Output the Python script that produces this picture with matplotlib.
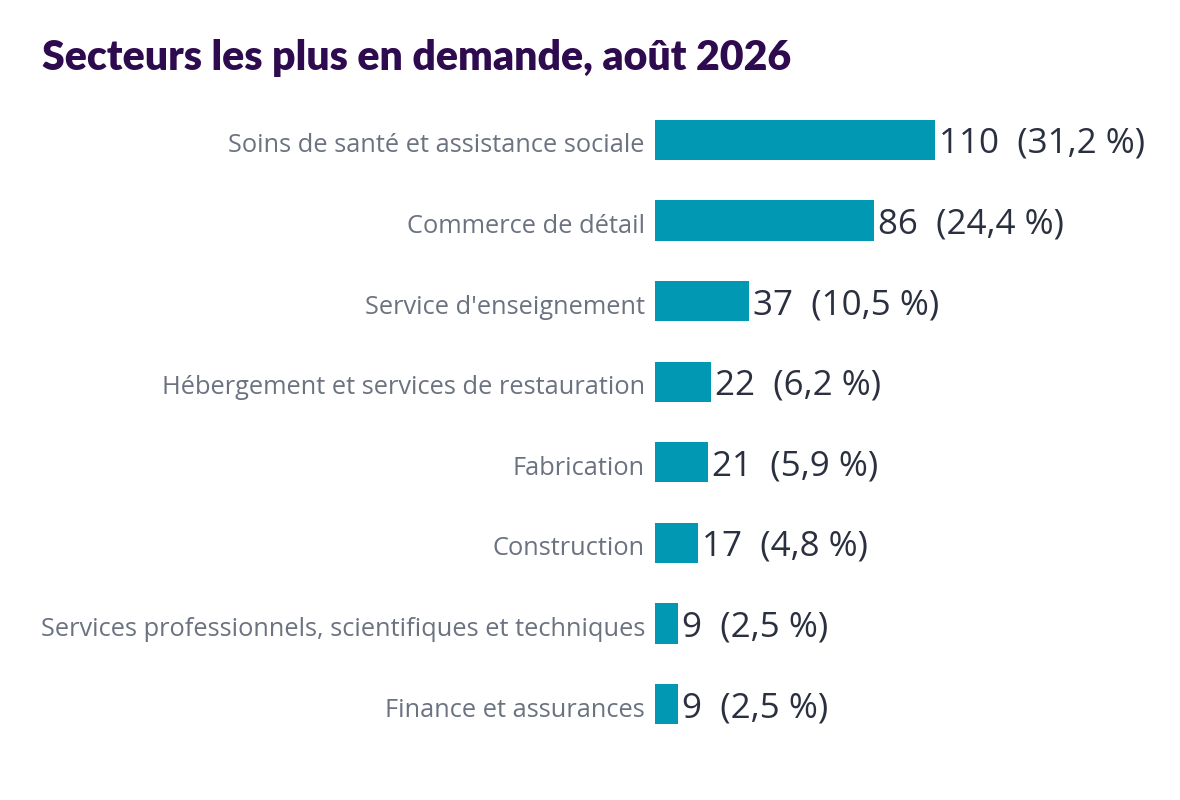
import matplotlib
matplotlib.use("Agg")
import matplotlib.pyplot as plt
import matplotlib.transforms as mtransforms

# Données
sectors = [
    "Soins de santé et assistance sociale",
    "Commerce de détail",
    "Service d'enseignement",
    "Hébergement et services de restauration",
    "Fabrication",
    "Construction",
    "Services professionnels, scientifiques et techniques",
    "Finance et assurances",
]
counts = [110, 86, 37, 22, 21, 17, 9, 9]
shares = ["31,2", "24,4", "10,5", "6,2", "5,9", "4,8", "2,5", "2,5"]

BAR_COLOR = "#0098b2"
TITLE_COLOR = "#2e0a4f"
LABEL_COLOR = "#6b7280"
VALUE_COLOR = "#2b3040"

W, H = 1180, 800
fig = plt.figure(figsize=(W / 100, H / 100), dpi=100)
fig.patch.set_facecolor("white")

# axe: x=0 à 655 px, 2.545 px par unité
left_px, top_px, bottom_px = 655, 99.7, 744.3
xmax = 180
ax = fig.add_axes([left_px / W, 1 - bottom_px / H, xmax * 2.545 / W, (bottom_px - top_px) / H])

y = list(range(len(sectors)))
ax.barh(y, counts, height=0.5, color=BAR_COLOR, edgecolor="none")
ax.set_xlim(0, xmax)
ax.set_ylim(len(sectors) - 0.5, -0.5)

# petits décalages (en pixels)
down_val = mtransforms.ScaledTranslation(0, -4 / 100, fig.dpi_scale_trans)
lbl_shift = mtransforms.ScaledTranslation(-10 / 100, -6 / 100, fig.dpi_scale_trans)

for yi, c, s in zip(y, counts, shares):
    ax.text(c + 1.5, yi, f"{c}  ({s} %)", va="center", ha="left",
            fontsize=25.2, color=VALUE_COLOR, family="Open Sans", clip_on=False,
            transform=ax.transData + down_val)

# libellés des secteurs
for yi, name in zip(y, sectors):
    ax.text(0, yi, name, va="center", ha="right", fontsize=18.3,
            color=LABEL_COLOR, family="Open Sans", clip_on=False,
            transform=ax.get_yaxis_transform() + lbl_shift)

ax.set_yticks([])
ax.set_xticks([])
for sp in ax.spines.values():
    sp.set_visible(False)

fig.text(42 / W, 1 - 58 / H, "Secteurs les plus en demande, août 2026",
         fontsize=29.5, fontweight="heavy", color=TITLE_COLOR, family="Lato",
         ha="left", va="center")

fig.savefig("out.png", dpi=100, facecolor="white")
